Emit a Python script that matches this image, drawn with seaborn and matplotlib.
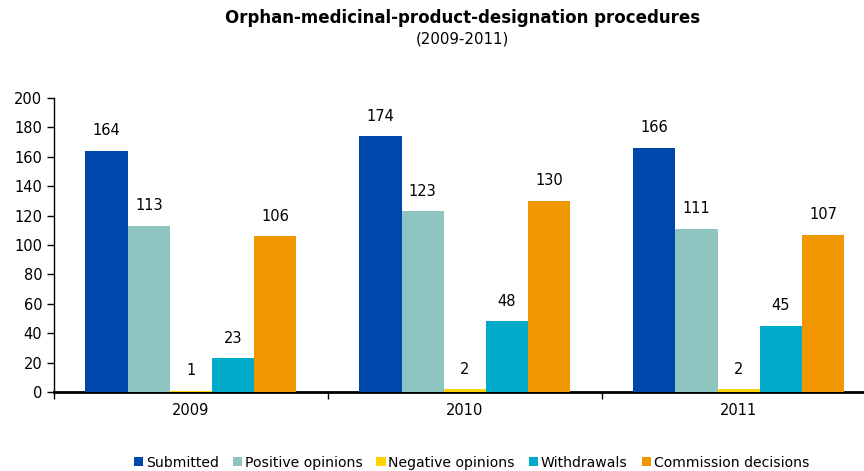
import pandas as pd
import numpy as np
from matplotlib import pyplot as plt
import seaborn as sb

# chart data
years = ['2009', '2010', '2011']
procedures = ['Submitted', 'Positive opinions', 'Negative opinions', 'Withdrawals', 'Commission decisions']
submitted = [164, 174, 166]
positive = [113, 123, 111]
negative = [1, 2, 2]
withdrawals = [23, 48, 45]
commission = [106, 130, 107]
colours = ['#0047AB', '#8EC5C0', '#FFD200', '#00AAC8', '#F09600']

values = [submitted, positive, negative, withdrawals, commission]
rows = []
for name, vals in zip(procedures, values):
    for yr, v in zip(years, vals):
        rows.append({'year': yr, 'procedure': name, 'count': v})
df = pd.DataFrame(rows)

sb.set_style('white')
plt.rcParams['font.family'] = ['DejaVu Sans']
plt.rcParams['text.color'] = 'black'
plt.rcParams['xtick.color'] = 'black'
plt.rcParams['ytick.color'] = 'black'

fig = plt.figure(figsize=(8.64, 4.71), dpi=100)
# axes runs a bit past the right edge of the figure, like the original
ax = fig.add_axes([0.0625, 0.1677, 0.951, 0.6245])
sb.barplot(data=df, x='year', y='count', hue='procedure', hue_order=procedures,
           palette=colours, width=0.77, saturation=1, linewidth=0, ax=ax, legend=True)

for cont in ax.containers:
    for p in cont.patches:
        p.set_zorder(3)  # keep the tiny bars visible above the thick axis line
    ax.bar_label(cont, padding=9, fontsize=10.5, color='black')

ax.set_ylim(0, 200)
ax.set_yticks(np.arange(0, 201, 20))
ax.set_xlim(-0.5, 2.5)
ax.set_xlabel('')
ax.set_ylabel('')
ax.set_xticks([-0.5, 0.5, 1.5, 2.5], minor=True)
ax.tick_params(axis='x', which='major', length=0, labelsize=10.5, pad=8)
ax.tick_params(axis='x', which='minor', length=5, width=1, direction='out', bottom=True)
ax.tick_params(axis='y', length=5, width=1, direction='out', left=True, labelsize=10.5)
for s in ['top', 'right']:
    ax.spines[s].set_visible(False)
for s in ['left', 'bottom']:
    ax.spines[s].set_color('black')
ax.spines['bottom'].set_linewidth(2)
ax.spines['left'].set_linewidth(1)

ax.legend(loc='upper center', bbox_to_anchor=(0.508, -0.197), ncol=5, frameon=False,
          fontsize=10.1, handlelength=0.65, handleheight=0.65, handletextpad=0.2,
          columnspacing=1.0, borderaxespad=0)

fig.text(0.535, 0.952, 'Orphan-medicinal-product-designation procedures', ha='center',
         fontsize=12, fontweight='bold')
fig.text(0.535, 0.907, '(2009-2011)', ha='center', fontsize=10.8)

fig.savefig('out.png', dpi=100)
